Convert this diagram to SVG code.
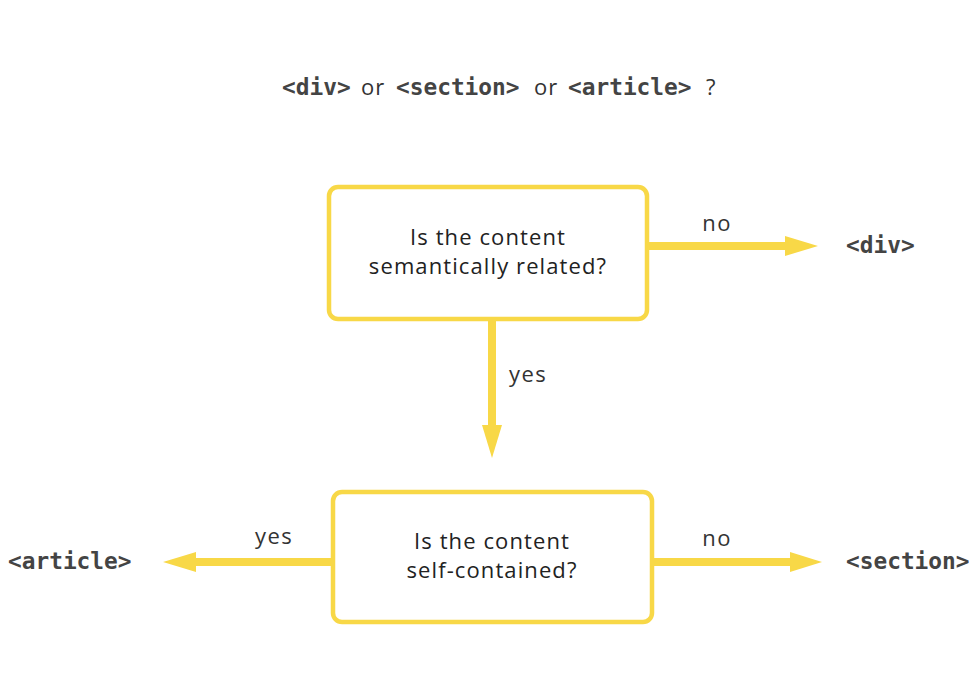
<svg xmlns="http://www.w3.org/2000/svg" width="980" height="700" viewBox="0 0 980 700">
<defs>
<style>
.box{fill:#fff;stroke:#F8D847;stroke-width:4.5}
.ln{stroke:#F8D847;stroke-width:8;fill:none}
.head{fill:#F8D847}
.q{font-family:"Open Sans","Noto Sans",sans-serif;font-size:22px;letter-spacing:1.1px;fill:#222;text-anchor:middle}
.lbl{font-family:"Open Sans","Noto Sans",sans-serif;font-size:22px;letter-spacing:1.4px;fill:#333;text-anchor:middle}
.code{font-family:"DejaVu Sans Mono","Liberation Mono",monospace;font-weight:bold;font-size:22.8px;fill:#444}
.or{font-family:"Open Sans","Noto Sans",sans-serif;font-size:22px;letter-spacing:1px;fill:#333}
</style>
</defs>
<rect width="980" height="700" fill="#fff"/>
<g id="title">
<text class="code" x="282" y="95">&lt;div&gt;</text>
<text class="or" x="361" y="95">or</text>
<text class="code" x="396" y="95">&lt;section&gt;</text>
<text class="or" x="534" y="95">or</text>
<text class="code" x="568" y="95">&lt;article&gt;</text>
<text class="or" x="706" y="95">?</text>
</g>
<g id="connectors">
<line class="ln" x1="649" y1="246" x2="788" y2="246"/>
<polygon class="head" points="785,236 818,246 785,256"/>
<line class="ln" x1="492" y1="320" x2="492" y2="428"/>
<polygon class="head" points="482,425 492,458 502,425"/>
<line class="ln" x1="333" y1="562" x2="193" y2="562"/>
<polygon class="head" points="196,552 163,562 196,572"/>
<line class="ln" x1="652" y1="562" x2="793" y2="562"/>
<polygon class="head" points="790,552 822,562 790,572"/>
<text class="lbl" x="717" y="231">no</text>
<text class="lbl" x="528" y="382">yes</text>
<text class="lbl" x="274" y="544">yes</text>
<text class="lbl" x="717" y="546">no</text>
</g>
<g id="node-related">
<rect class="box" x="329" y="187" width="318" height="132" rx="9"/>
<text class="q" x="488" y="245">Is the content</text>
<text class="q" x="488" y="274">semantically related?</text>
</g>
<g id="node-selfcontained">
<rect class="box" x="333" y="492" width="319" height="130" rx="9"/>
<text class="q" x="492" y="549">Is the content</text>
<text class="q" x="492" y="578">self-contained?</text>
</g>
<g id="node-div"><text class="code" x="846" y="253">&lt;div&gt;</text></g>
<g id="node-section"><text class="code" x="846" y="569">&lt;section&gt;</text></g>
<g id="node-article"><text class="code" x="8" y="569">&lt;article&gt;</text></g>
</svg>
